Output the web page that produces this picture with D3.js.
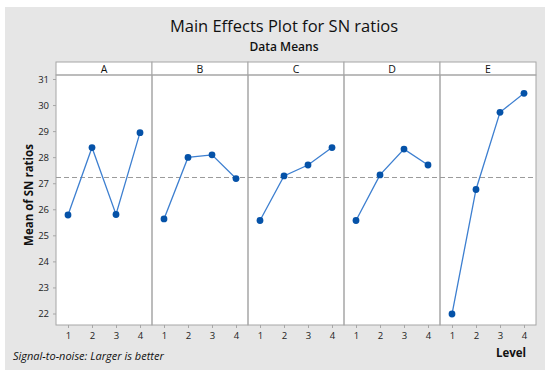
<!DOCTYPE html>
<html>
<head>
<meta charset="utf-8">
<script src="https://cdn.jsdelivr.net/npm/d3@7"></script>
<style>
  body { margin: 0; background: #fff; }
  svg { display: block; font-family: "Open Sans", "Noto Sans", sans-serif; }
</style>
</head>
<body>
<svg id="chart" width="550" height="377"></svg>
<script>
// factors and their levels
const factors = ['A', 'B', 'C', 'D', 'E'];
const levels = [1, 2, 3, 4];
const snA = [25.78, 28.37, 25.8, 28.94];
const snB = [25.63, 27.99, 28.09, 27.18];
const snC = [25.57, 27.28, 27.7, 28.37];
const snD = [25.57, 27.32, 28.31, 27.7];
const snE = [21.98, 26.76, 29.72, 30.45];
const overallMean = 27.22;
const yTicks = [22, 23, 24, 25, 26, 27, 28, 29, 30, 31];

const series = [snA, snB, snC, snD, snE];

const svg = d3.select('#chart');
const plotLeft = 56, plotRight = 536, plotTop = 75, plotBottom = 325, stripH = 13;
const panelW = (plotRight - plotLeft) / factors.length;

svg.append('rect')
   .attr('x', 5).attr('y', 7)
   .attr('width', 540).attr('height', 363)
   .attr('fill', '#e6e6e6');

svg.append('text')
   .attr('x', 284).attr('y', 32)
   .attr('text-anchor', 'middle')
   .attr('font-size', 16.5)
   .attr('fill', '#111')
   .text('Main Effects Plot for SN ratios');

svg.append('text')
   .attr('x', 284).attr('y', 51)
   .attr('text-anchor', 'middle')
   .attr('font-size', 12)
   .attr('font-weight', 600)
   .attr('fill', '#111')
   .text('Data Means');

let yScale = d3.scaleLinear()
               .domain([22, 31])
               .range([313.5, 79]);

let xBand = d3.scaleBand()
              .domain(factors)
              .range([plotLeft, plotRight]);

// white plotting area and strip headers
svg.append('rect')
   .attr('x', plotLeft).attr('y', plotTop - stripH)
   .attr('width', plotRight - plotLeft).attr('height', plotBottom - plotTop + stripH)
   .attr('fill', '#fff');

factors.forEach((f, i) => {
  const x0 = xBand(f);
  let xScale = d3.scaleLinear()
                 .domain([0.5, 4.5])
                 .range([x0, x0 + panelW]);

  const g = svg.append('g');

  // header strip
  g.append('rect')
   .attr('x', x0).attr('y', plotTop - stripH)
   .attr('width', panelW).attr('height', stripH)
   .attr('fill', '#fff')
   .attr('stroke', '#a6a6a6');
  g.append('text')
   .attr('x', x0 + panelW / 2).attr('y', plotTop - 2.5)
   .attr('text-anchor', 'middle')
   .attr('font-size', 10.5)
   .attr('fill', '#111')
   .text(f);

  // panel frame
  g.append('rect')
   .attr('x', x0).attr('y', plotTop)
   .attr('width', panelW).attr('height', plotBottom - plotTop)
   .attr('fill', 'none')
   .attr('stroke', '#a6a6a6');

  // overall mean reference
  g.append('line')
   .attr('x1', x0).attr('x2', x0 + panelW)
   .attr('y1', yScale(overallMean)).attr('y2', yScale(overallMean))
   .attr('stroke', '#9a9a9a')
   .attr('stroke-dasharray', '5,3');

  const xAxis = d3.axisBottom(xScale).tickValues(levels)
                  .tickFormat(d3.format('d')).tickSize(3).tickPadding(4);
  const ax = g.append('g')
              .attr('transform', `translate(0, ${plotBottom})`)
              .call(xAxis);
  ax.select('.domain').remove();
  ax.selectAll('line').attr('stroke', '#a6a6a6');
  ax.selectAll('text').attr('font-size', 9.5).attr('fill', '#222')
    .attr('font-family', '"Open Sans", sans-serif');

  const pts = levels.map((l, j) => [l, series[i][j]]);
  const line = d3.line().x(d => xScale(d[0])).y(d => yScale(d[1]));
  g.append('path')
   .attr('d', line(pts))
   .attr('fill', 'none')
   .attr('stroke', '#3d7fd0')
   .attr('stroke-width', 1.3);
  g.selectAll('circle')
   .data(pts)
   .enter().append('circle')
   .attr('cx', d => xScale(d[0]))
   .attr('cy', d => yScale(d[1]))
   .attr('r', 3.4)
   .attr('fill', '#0552a8');
});

let yAxis = d3.axisLeft(yScale).tickValues(yTicks).tickSize(3).tickPadding(4);
const yg = svg.append('g')
              .attr('transform', `translate(${plotLeft}, 0)`)
              .call(yAxis);
yg.select('.domain').remove();
yg.selectAll('line').attr('stroke', '#a6a6a6');
yg.selectAll('text').attr('font-size', 9.5).attr('fill', '#222')
  .attr('font-family', '"Open Sans", sans-serif');

svg.append('g')
   .attr('transform', `translate(33, 195) rotate(-90)`)
   .append('text')
   .attr('text-anchor', 'middle')
   .attr('font-size', 11.5)
   .attr('font-weight', 'bold')
   .attr('fill', '#111')
   .text('Mean of SN ratios');

svg.append('text')
   .attr('x', 511).attr('y', 357)
   .attr('text-anchor', 'middle')
   .attr('font-size', 11.5)
   .attr('font-weight', 'bold')
   .attr('fill', '#111')
   .text('Level');

svg.append('text')
   .attr('x', 13).attr('y', 360)
   .attr('font-size', 11)
   .attr('font-style', 'italic')
   .attr('fill', '#111')
   .text('Signal-to-noise: Larger is better');
</script>
</body>
</html>
